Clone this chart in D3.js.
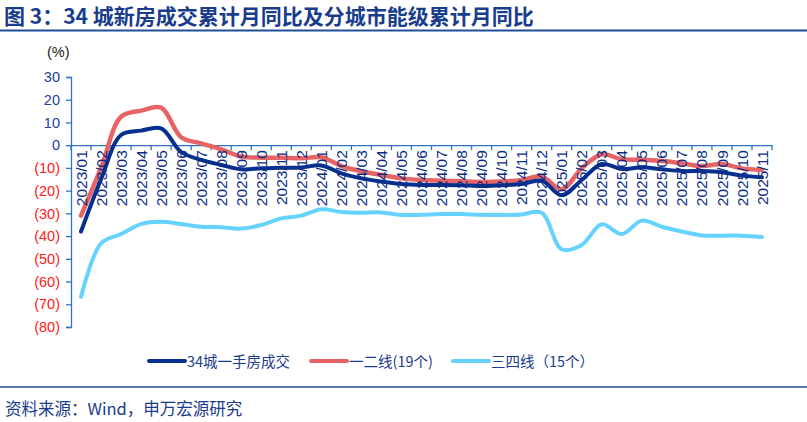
<!DOCTYPE html>
<html>
<head>
<meta charset="utf-8">
<script src="https://cdn.jsdelivr.net/npm/d3@7"></script>
<style>
  body { margin: 0; background: #fff; }
  svg { display: block; font-family: "Liberation Sans", "Noto Sans CJK SC", sans-serif; }
</style>
</head>
<body>
<script>
// months 2023/01 .. 2025/11
const months = [];
for (let y = 2023; y <= 2025; y++) {
    for (let m = 1; m <= 12; m++) {
        if (y === 2025 && m > 11) break;
        months.push(y + "/" + String(m).padStart(2, "0"));
    }
}

const city34 = [-38, -15, 4.5, 6.4, 7.4, -3, -6.5, -8.7, -10.6, -10.2, -9.9, -9.8, -8.9, -12.4, -14.6,
    -16, -17.1, -17.5, -17.5, -17.6, -18, -17.6, -17.1, -15.6, -22, -15.3, -8.3, -10.5,
    -9.7, -10.6, -11.4, -11.4, -11.9, -13.4, -14.1];
const tier12 = [-31, -10, 12.5, 15.2, 16.5, 3.5, 0.8, -1.8, -5, -5.5, -5.5, -5.8, -5.3, -9.2, -11.5,
    -13.1, -14.6, -15.3, -15.6, -15.9, -16.2, -16, -15.3, -13.8, -19.4, -10.2, -4, -6.2,
    -6.4, -7, -8, -9.2, -8.3, -10.2, -10.9];
const tier34 = [-66.7, -43.2, -39.1, -34.7, -33.7, -34.7, -35.9, -36.1, -36.7, -35.1, -32.2, -31, -28.2, -29.4, -29.7,
    -29.6, -30.7, -30.6, -30.3, -30.3, -30.6, -30.7, -30.5, -29.7, -45.8, -43.9, -34.8, -39.1,
    -33.2, -35.9, -38, -39.7, -39.8, -39.8, -40.4];

const yTicks = [30, 20, 10, 0, -10, -20, -30, -40, -50, -60, -70, -80];
const seriesNames = ["34城一手房成交", "一二线(19个)", "三四线（15个）"];
const seriesColors = ["#06308F", "#E86464", "#66D3FF"];

const W = 807, H = 422;
const svg = d3.select("body").append("svg").attr("width", W).attr("height", H);

// title + rule
svg.append("text")
    .attr("x", 4).attr("y", 24)
    .attr("font-size", 21).attr("font-weight", "bold")
    .attr("font-family", "Noto Sans CJK SC, sans-serif")
    .attr("fill", "#1A3C8C")
    .text("图 3：34 城新房成交累计月同比及分城市能级累计月同比");
svg.append("line").attr("x1", 0).attr("x2", W).attr("y1", 30.5).attr("y2", 30.5)
    .attr("stroke", "#1F4E9A").attr("stroke-width", 2);

// scales
const x = d3.scaleBand().domain(months).range([71, 772]);
const y = d3.scaleLinear().domain([-80, 30]).range([327, 77]);
const xc = (d) => x(d) + x.bandwidth() / 2;

const axisColor = "#2E75C2";

// y axis
const yAxis = svg.append("g")
    .attr("transform", "translate(71,0)")
    .call(d3.axisLeft(y).tickValues(yTicks).tickSize(5).tickPadding(6)
        .tickFormat((d) => d < 0 ? "(" + (-d) + ")" : d));
yAxis.select(".domain").attr("stroke", axisColor).attr("stroke-width", 1.3);
yAxis.selectAll(".tick line").attr("stroke", axisColor).attr("stroke-width", 1.3);
yAxis.selectAll(".tick text")
    .attr("font-size", 14.5)
    .attr("font-family", "Liberation Sans, sans-serif")
    .attr("fill", (d) => d < 0 ? "#FF2020" : "#1F3F99");

svg.append("text").attr("x", 47).attr("y", 57)
    .attr("font-size", 14.5).attr("fill", "#222").text("(%)");

// x axis on zero line
const xAxis = svg.append("g")
    .attr("transform", `translate(0,${y(0)})`)
    .call(d3.axisBottom(x).tickSize(0).tickFormat(""));
xAxis.select(".domain").attr("stroke", axisColor).attr("stroke-width", 1.3);
// tick marks at band boundaries
const bounds = months.map((d) => x(d)).concat([x.range()[1]]);
xAxis.selectAll(".bnd")
    .data(bounds)
    .join("line")
    .attr("class", "bnd")
    .attr("x1", (d) => d).attr("x2", (d) => d)
    .attr("y1", 0).attr("y2", 5)
    .attr("stroke", axisColor).attr("stroke-width", 1.3);

// lines
const line = d3.line()
    .x((d, i) => xc(months[i]))
    .y((d) => y(d))
    .curve(d3.curveCatmullRom.alpha(0.5));

// draw order: cyan, red, navy
const series = [city34, tier12, tier34];
const widths = [4, 4.5, 4];
svg.selectAll(".series")
    .data([2, 1, 0])
    .join("path")
    .attr("class", "series")
    .attr("d", (k) => line(series[k]))
    .attr("fill", "none")
    .attr("stroke", (k) => seriesColors[k])
    .attr("stroke-width", (k) => widths[k])
    .attr("stroke-linecap", "round")
    .attr("stroke-linejoin", "round");

// x labels (drawn over lines)
svg.append("g").selectAll("text")
    .data(months)
    .join("text")
    .attr("transform", (d) => `translate(${xc(d)},${y(0) + 5}) rotate(-90)`)
    .attr("text-anchor", "end")
    .attr("dy", "0.36em")
    .attr("font-size", 15.5)
    .attr("font-family", "Liberation Sans, sans-serif")
    .attr("fill", "#0C2D86")
    .text((d) => d);

// legend
const legX = [149, 311, 453];
const leg = svg.append("g").selectAll("g")
    .data(seriesNames)
    .join("g")
    .attr("transform", (d, i) => `translate(${legX[i]},361)`);
leg.append("line")
    .attr("x1", 0).attr("x2", 36).attr("y1", 0).attr("y2", 0)
    .attr("stroke", (d, i) => seriesColors[i]).attr("stroke-width", 4)
    .attr("stroke-linecap", "round");
leg.append("text")
    .attr("x", 38).attr("y", 5.5)
    .attr("font-size", 14.5)
    .attr("font-family", "Noto Sans CJK SC, sans-serif")
    .attr("fill", "#1A3C8C")
    .text((d) => d);

// footer
svg.append("line").attr("x1", 0).attr("x2", W).attr("y1", 387).attr("y2", 387)
    .attr("stroke", "#1F4E9A").attr("stroke-width", 1.5);
svg.append("text").attr("x", 5).attr("y", 415)
    .attr("font-size", 16.5)
    .attr("font-family", "Noto Sans CJK SC, sans-serif")
    .attr("fill", "#1A3C8C")
    .text("资料来源：Wind，申万宏源研究");
</script>
</body>
</html>
